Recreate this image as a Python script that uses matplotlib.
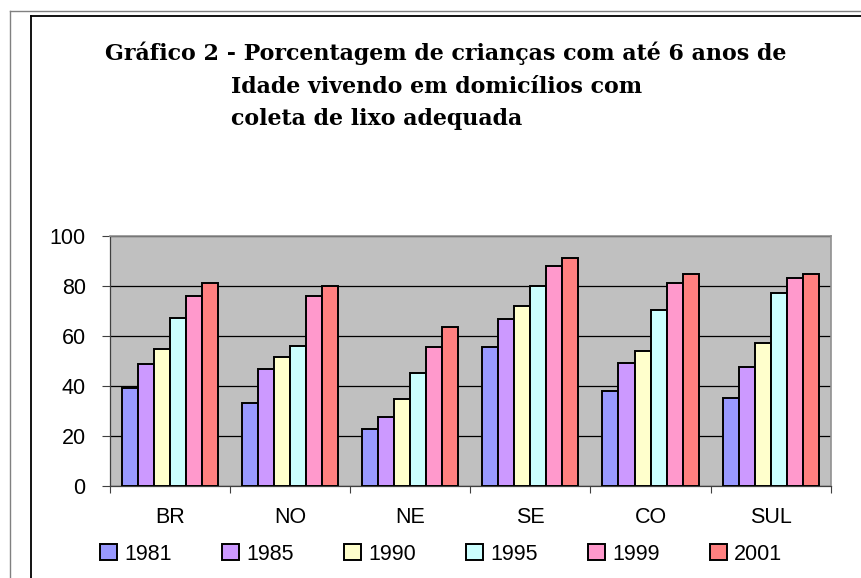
"""Gráfico 2 - coleta de lixo adequada, clustered bars by region and year."""

import matplotlib
matplotlib.use("Agg")
import matplotlib.pyplot as plt
import numpy as np
from matplotlib.lines import Line2D

regions = ["BR", "NO", "NE", "SE", "CO", "SUL"]
years = ["1981", "1985", "1990", "1995", "1999", "2001"]

v1981 = [39.2, 33.1, 22.7, 55.4, 37.8, 35.2]
v1985 = [48.8, 46.6, 27.4, 66.6, 49.0, 47.5]
v1990 = [54.6, 51.4, 34.6, 72.0, 53.8, 57.0]
v1995 = [67.2, 56.0, 45.0, 79.9, 70.4, 77.0]
v1999 = [76.0, 76.0, 55.4, 88.0, 81.0, 83.2]
v2001 = [81.0, 79.9, 63.4, 91.1, 84.8, 84.8]

colours = ["#9999FF", "#CC99FF", "#FFFFCC", "#CCFFFF", "#FF99CC", "#FF8080"]

title_lines = [
    "Gráfico 2 - Porcentagem de crianças com até 6 anos de",
    "Idade vivendo em domicílios com",
    "coleta de lixo adequada",
]

W, H = 862, 578
fig = plt.figure(figsize=(W / 100, H / 100), dpi=100)
fig.patch.set_facecolor("white")

# page frame lines (outer grey, inner black)
fig.add_artist(Line2D([10 / W, 10 / W], [0, 1 - 11 / H], color="#808080", lw=1))
fig.add_artist(Line2D([10 / W, 1], [1 - 11 / H, 1 - 11 / H], color="#808080", lw=1))
fig.add_artist(Line2D([31 / W, 31 / W], [0, 1 - 16 / H], color="black", lw=1.3))
fig.add_artist(Line2D([31 / W, 1], [1 - 16 / H, 1 - 16 / H], color="black", lw=1.3))

ax = fig.add_axes([110 / W, 1 - 485.7 / H, (830.7 - 110) / W, (485.7 - 235.7) / H])
ax.set_facecolor("#C0C0C0")

series = [v1981, v1985, v1990, v1995, v1999, v2001]
x = np.arange(len(regions))
bw = 1 / 7.5
for i, (vals, col, yr) in enumerate(zip(series, colours, years)):
    ax.bar(x - 3 * bw + (i + 0.5) * bw, vals, width=bw, color=col,
           edgecolor="black", linewidth=1.4, label=yr, zorder=3)

ax.set_xlim(-0.5, len(regions) - 0.5)
ax.set_ylim(0, 100)
ax.set_yticks(np.arange(0, 101, 20))
ax.grid(axis="y", color="black", linewidth=0.9, zorder=1)

ax.set_xticks(x)
ax.set_xticklabels(regions)
ax.set_xticks(np.arange(-0.5, len(regions)), minor=True)
ax.tick_params(axis="x", which="major", length=0, pad=15)
ax.tick_params(axis="x", which="minor", length=5, width=0.8, color="#404040", direction="out")
ax.tick_params(axis="y", length=6, width=0.8, color="#404040", pad=11.5)
for lbl in ax.get_xticklabels() + ax.get_yticklabels():
    lbl.set_family("Liberation Sans")
    lbl.set_fontsize(15.5)

for side in ("left", "bottom"):
    ax.spines[side].set_color("#404040")
    ax.spines[side].set_linewidth(0.9)
for side in ("top", "right"):
    ax.spines[side].set_color("#909090")
    ax.spines[side].set_linewidth(1.2)

# title
tkw = dict(ha="left", va="baseline", family="DejaVu Serif", weight="bold", fontsize=15.9)
fig.text(105 / W, 1 - 60 / H, title_lines[0], **tkw)
fig.text(231 / W, 1 - 93 / H, title_lines[1], **tkw)
fig.text(231 / W, 1 - 125 / H, title_lines[2], **tkw)

handles, labels = ax.get_legend_handles_labels()
fig.legend(handles, labels, loc="center", bbox_to_anchor=(441 / W, 1 - 554 / H),
           ncol=6, frameon=False, prop={"family": "Liberation Sans", "size": 15.5},
           handlelength=0.8, handleheight=0.8, handletextpad=0.33,
           columnspacing=2.33, borderpad=0)

fig.savefig("out.png", dpi=100, facecolor=fig.get_facecolor())
